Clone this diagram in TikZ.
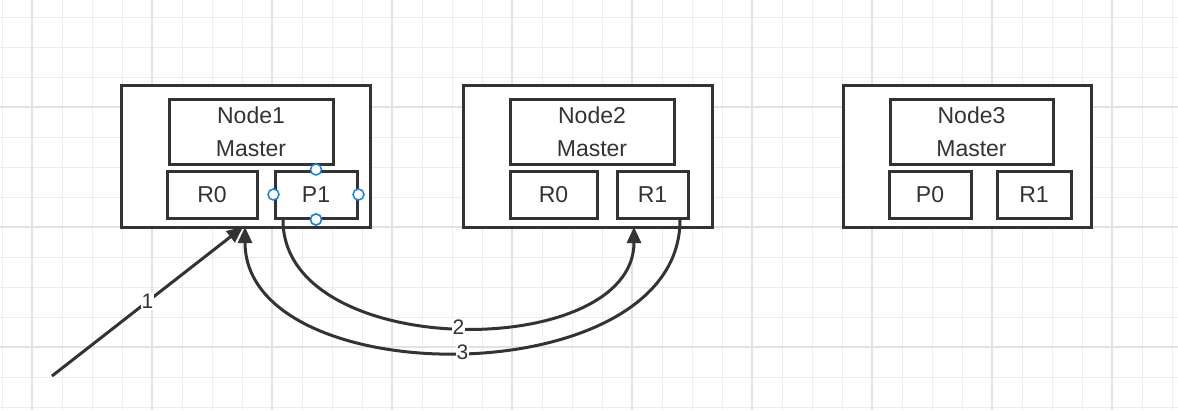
\documentclass[tikz,border=0pt]{standalone}
\usepackage{fontspec}
\setmainfont{Liberation Sans}
\usetikzlibrary{arrows.meta}
\definecolor{ink}{HTML}{333333}
\definecolor{gridc}{HTML}{EDEDED}
\definecolor{gridM}{HTML}{E2E2E2}
\definecolor{handle}{HTML}{1A7FE8}
\begin{document}
\begin{tikzpicture}[x=1pt,y=-1pt,
  box/.style={draw=ink,line width=3pt,fill=white,inner sep=0pt,font=\fontsize{23}{33}\selectfont,text=ink,align=center},
  conn/.style={draw=ink,line width=3pt,-{Triangle[length=16pt,width=14pt]}},
  lab/.style={fill=white,inner sep=1pt,font=\fontsize{21}{24}\selectfont,text=ink},
  hd/.style={circle,draw=handle,line width=1.5pt,fill=white,minimum size=11pt,inner sep=0pt}]
\useasboundingbox (0,0) rectangle (1178,410);
\fill[white] (0,0) rectangle (1178,410);
\foreach \x in {2,32,...,1178} \draw[gridc,line width=1pt] (\x,0) -- (\x,410);
\foreach \y in {17,47,...,410} \draw[gridc,line width=1pt] (0,\y) -- (1178,\y);
\foreach \x in {32,152,...,1178} \draw[gridM,line width=1.5pt] (\x,0) -- (\x,410);
\foreach \y in {107,227,347} \draw[gridM,line width=1.5pt] (0,\y) -- (1178,\y);
% Node1
\node[box,minimum width=249pt,minimum height=142pt] (n1) at (245.5,156) {};
\node[box,minimum width=164pt,minimum height=65pt] (m1) at (251,131.5) {Node1\\Master};
\node[box,minimum width=90pt,minimum height=47pt] (r01) at (212,194.5) {R0};
\node[box,minimum width=82pt,minimum height=47pt] (p11) at (316,194.5) {P1};
% Node2
\node[box,minimum width=249pt,minimum height=142pt] (n2) at (587.5,156) {};
\node[box,minimum width=164pt,minimum height=65pt] (m2) at (592,131.5) {Node2\\Master};
\node[box,minimum width=87pt,minimum height=47pt] (r02) at (553.5,194.5) {R0};
\node[box,minimum width=71pt,minimum height=47pt] (r12) at (652.5,194.5) {R1};
% Node3
\node[box,minimum width=248pt,minimum height=142pt] (n3) at (967,156) {};
\node[box,minimum width=163pt,minimum height=65pt] (m3) at (971.5,131.5) {Node3\\Master};
\node[box,minimum width=82pt,minimum height=47pt] (p03) at (930,194.5) {P0};
\node[box,minimum width=74pt,minimum height=47pt] (r13) at (1034,194.5) {R1};
% handles
\node[hd] (h1) at (p11.north) {};
\node[hd] (h2) at (p11.west) {};
\node[hd] (h3) at (p11.east) {};
\node[hd] (h4) at (p11.south) {};
% connectors
\coordinate (s1) at (52,376);
\coordinate (t1) at (243,227);
\coordinate (s2) at (283,220);
\coordinate (t2) at (634,227);
\coordinate (s3) at (680,220);
\coordinate (t3) at (245,227);
\draw[conn] (s2) .. controls (283,362) and (634,362) .. (t2) node[lab,pos=0.5] {2};
\draw[conn] (s3) .. controls (680,395) and (245,395) .. (t3) node[lab,pos=0.5] {3};
\draw[conn] (s1) -- (t1) node[lab,pos=0.5] {1};
\node[hd] at (p11.south) {};
\end{tikzpicture}
\end{document}
